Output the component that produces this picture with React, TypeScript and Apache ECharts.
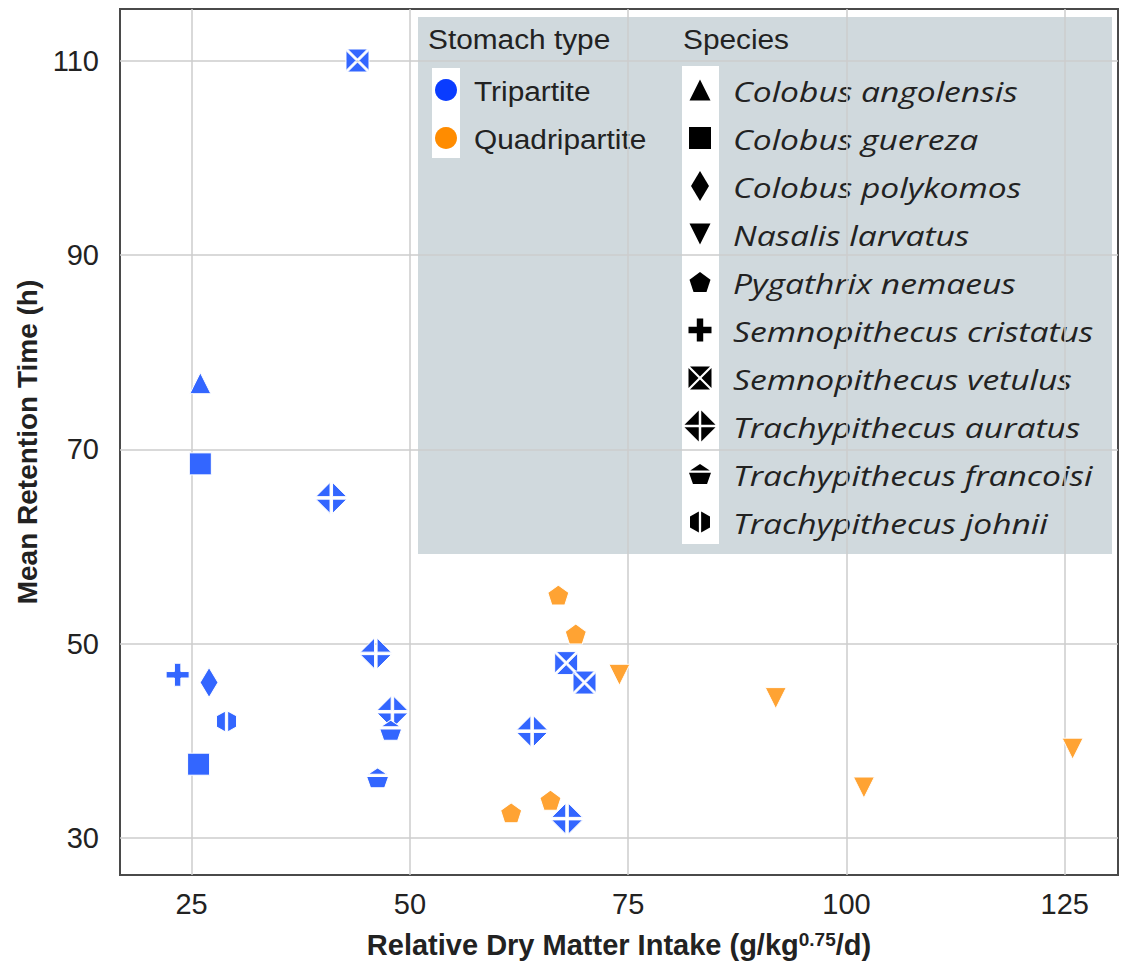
import React, { useEffect, useRef } from "react";
import * as echarts from "echarts";

// ---------- data ----------
const speciesNames = [
  "Colobus angolensis",
  "Colobus guereza",
  "Colobus polykomos",
  "Nasalis larvatus",
  "Pygathrix nemaeus",
  "Semnopithecus cristatus",
  "Semnopithecus vetulus",
  "Trachypithecus auratus",
  "Trachypithecus francoisi",
  "Trachypithecus johnii",
];
const stomachTypes = ["Tripartite", "Quadripartite"];

// one entry per point
const pointSpecies = [
  "Colobus angolensis",
  "Colobus guereza",
  "Colobus guereza",
  "Colobus polykomos",
  "Semnopithecus cristatus",
  "Semnopithecus vetulus",
  "Semnopithecus vetulus",
  "Semnopithecus vetulus",
  "Trachypithecus auratus",
  "Trachypithecus auratus",
  "Trachypithecus auratus",
  "Trachypithecus auratus",
  "Trachypithecus auratus",
  "Trachypithecus francoisi",
  "Trachypithecus francoisi",
  "Trachypithecus johnii",
  "Pygathrix nemaeus",
  "Pygathrix nemaeus",
  "Pygathrix nemaeus",
  "Pygathrix nemaeus",
  "Nasalis larvatus",
  "Nasalis larvatus",
  "Nasalis larvatus",
  "Nasalis larvatus",
];
const pointStomach = [
  "Tripartite", "Tripartite", "Tripartite", "Tripartite", "Tripartite",
  "Tripartite", "Tripartite", "Tripartite", "Tripartite", "Tripartite",
  "Tripartite", "Tripartite", "Tripartite", "Tripartite", "Tripartite",
  "Tripartite",
  "Quadripartite", "Quadripartite", "Quadripartite", "Quadripartite",
  "Quadripartite", "Quadripartite", "Quadripartite", "Quadripartite",
];
const pointIntake = [
  26.0, 26.0, 25.8, 27.0, 23.4, 44.0, 67.9, 70.0, 41.0, 46.1, 48.0, 64.0,
  68.0, 47.8, 46.3, 29.0, 67.0, 69.0, 61.6, 66.1, 74.0, 91.9, 102.0, 125.9,
];
const pointMRT = [
  76.8, 68.5, 37.6, 46.0, 46.8, 110.0, 48.0, 46.0, 65.0, 49.0, 43.0, 41.0,
  32.0, 41.1, 36.2, 42.0, 55.0, 51.0, 32.6, 33.9, 46.8, 44.4, 35.2, 39.2,
];

const xTicks = [25, 50, 75, 100, 125];
const yTicks = [30, 50, 70, 90, 110];

// ---------- styling ----------
const markerColors: Record<string, string> = {
  Tripartite: "#3366ff",
  Quadripartite: "#ffa333",
};
const legendColors: Record<string, string> = {
  Tripartite: "#0a3cff",
  Quadripartite: "#ff8c00",
};
const SANS = '"Liberation Sans", Arial, sans-serif';
const ITALIC_FONT = '"Open Sans", "Noto Sans", sans-serif';
const TEXT_COLOR = "#222222";

// ---------- marker geometry ----------
type Pt = [number, number];
type Poly = Pt[];

function clip(poly: Poly, a: number, b: number, c: number): Poly {
  const out: Poly = [];
  const n = poly.length;
  for (let i = 0; i < n; i++) {
    const P = poly[i];
    const Q = poly[(i + 1) % n];
    const fp = a * P[0] + b * P[1] - c;
    const fq = a * Q[0] + b * Q[1] - c;
    if (fp <= 0) out.push(P);
    if ((fp < 0 && fq > 0) || (fp > 0 && fq < 0)) {
      const t = fp / (fp - fq);
      out.push([P[0] + t * (Q[0] - P[0]), P[1] + t * (Q[1] - P[1])]);
    }
  }
  return out;
}
function clipAll(poly: Poly, planes: number[][]): Poly {
  return planes.reduce((p, pl) => clip(p, pl[0], pl[1], pl[2]), poly);
}

const TRI_UP: Poly = [[0, -1], [1, 1], [-1, 1]];
const TRI_DOWN: Poly = [[-1, -1], [1, -1], [0, 1]];
const SQUARE: Poly = [[-1, -1], [1, -1], [1, 1], [-1, 1]];
const DIAMOND: Poly = [[0, -1], [1, 0], [0, 1], [-1, 0]];
const PENT: Poly = [0, 1, 2, 3, 4].map((k) => {
  const a = ((-90 + 72 * k) * Math.PI) / 180;
  return [Math.cos(a), Math.sin(a)] as Pt;
});
const HEX: Poly = [0, 1, 2, 3, 4, 5].map((k) => {
  const a = ((-90 + 60 * k) * Math.PI) / 180;
  return [Math.cos(a), Math.sin(a)] as Pt;
});
const pa = 0.28;
const PLUS: Poly = [
  [-pa, -1], [pa, -1], [pa, -pa], [1, -pa], [1, pa], [pa, pa],
  [pa, 1], [-pa, 1], [-pa, pa], [-1, pa], [-1, -pa], [-pa, -pa],
];
const kx = 0.13;
const VETULUS: Poly[] = [
  clipAll(SQUARE, [[-1, 1, -kx], [1, 1, -kx]]),
  clipAll(SQUARE, [[1, -1, -kx], [1, 1, -kx]]),
  clipAll(SQUARE, [[-1, 1, -kx], [-1, -1, -kx]]),
  clipAll(SQUARE, [[1, -1, -kx], [-1, -1, -kx]]),
];
const da = 0.075;
const AURATUS: Poly[] = [
  clipAll(DIAMOND, [[-1, 0, -da], [0, 1, -da]]),
  clipAll(DIAMOND, [[1, 0, -da], [0, 1, -da]]),
  clipAll(DIAMOND, [[-1, 0, -da], [0, -1, -da]]),
  clipAll(DIAMOND, [[1, 0, -da], [0, -1, -da]]),
];
const sy = PENT[1][1];
const gf = 0.1;
const FRANCOISI: Poly[] = [
  clipAll(PENT, [[0, 1, sy - gf]]),
  clipAll(PENT, [[0, -1, -(sy + gf)]]),
];
const gj = 0.1;
const JOHNII: Poly[] = [
  clipAll(HEX, [[1, 0, -gj]]),
  clipAll(HEX, [[-1, 0, -gj]]),
];

const shapes: Record<string, { pieces: Poly[]; size: [number, number] }> = {
  "Colobus angolensis": { pieces: [TRI_UP], size: [21, 21] },
  "Colobus guereza": { pieces: [SQUARE], size: [22, 22] },
  "Colobus polykomos": { pieces: [DIAMOND], size: [18, 30] },
  "Nasalis larvatus": { pieces: [TRI_DOWN], size: [21, 21] },
  "Pygathrix nemaeus": { pieces: [PENT], size: [21, 20] },
  "Semnopithecus cristatus": { pieces: [PLUS], size: [23, 23] },
  "Semnopithecus vetulus": { pieces: VETULUS, size: [23, 23] },
  "Trachypithecus auratus": { pieces: AURATUS, size: [31, 31] },
  "Trachypithecus francoisi": { pieces: FRANCOISI, size: [22, 20] },
  "Trachypithecus johnii": { pieces: JOHNII, size: [20, 21] },
};

function bbox(pieces: Poly[]) {
  let x0 = Infinity, y0 = Infinity, x1 = -Infinity, y1 = -Infinity;
  pieces.forEach((p) =>
    p.forEach(([x, y]) => {
      x0 = Math.min(x0, x); y0 = Math.min(y0, y);
      x1 = Math.max(x1, x); y1 = Math.max(y1, y);
    })
  );
  return { x0, y0, x1, y1 };
}
function toPath(pieces: Poly[]): string {
  const f = (v: number) => ((v + 2) * 50).toFixed(2);
  return (
    "path://" +
    pieces
      .map((p) => "M" + p.map(([x, y]) => f(x) + " " + f(y)).join(" L") + " Z")
      .join(" ")
  );
}
function iconPolys(name: string, cx: number, cy: number, fill: string) {
  const { pieces, size } = shapes[name];
  const b = bbox(pieces);
  const w = size[0], h = size[1];
  return pieces.map((p) => ({
    type: "polygon",
    shape: {
      points: p.map(([x, y]) => [
        cx - w / 2 + ((x - b.x0) / (b.x1 - b.x0)) * w,
        cy - h / 2 + ((y - b.y0) / (b.y1 - b.y0)) * h,
      ]),
    },
    style: { fill },
  }));
}

// ---------- option ----------
function buildOption() {
  const series = speciesNames.map((sp) => ({
    type: "scatter",
    name: sp,
    symbol: toPath(shapes[sp].pieces),
    symbolSize: shapes[sp].size,
    itemStyle: { borderColor: "#ffffff", borderWidth: 1, opacity: 1 },
    emphasis: { disabled: true },
    data: pointSpecies
      .map((s, i) => ({ s, i }))
      .filter((o) => o.s === sp)
      .map(({ i }) => ({
        value: [pointIntake[i], pointMRT[i]],
        itemStyle: { color: markerColors[pointStomach[i]] },
      })),
  }));

  const legendX = 418, legendY = 17, legendW = 694, legendH = 537;
  const rowY0 = 90, rowGap = 48;
  const sansText = (text: string, x: number, y: number) => ({
    type: "text",
    x, y, scaleX: 1.065,
    style: { text, font: `28px ${SANS}`, fill: TEXT_COLOR, align: "left", verticalAlign: "middle" },
  });
  const graphicChildren: any[] = [
    {
      type: "rect",
      shape: { x: legendX, y: legendY, width: legendW, height: legendH },
      style: { fill: "#d0d9dd" },
    },
    sansText("Stomach type", 428, 39),
    sansText("Species", 683, 39),
    { type: "rect", shape: { x: 432, y: 68, width: 28, height: 90 }, style: { fill: "#ffffff" } },
    { type: "rect", shape: { x: 682, y: 66, width: 37, height: 478 }, style: { fill: "#ffffff" } },
  ];
  stomachTypes.forEach((st, k) => {
    const cy = rowY0 + rowGap * k;
    graphicChildren.push({ type: "circle", shape: { cx: 446, cy, r: 11 }, style: { fill: legendColors[st] } });
    graphicChildren.push(sansText(st, 474, cy + 1));
  });
  speciesNames.forEach((sp, k) => {
    const cy = rowY0 + rowGap * k;
    iconPolys(sp, 700, cy, "#000000").forEach((e) => graphicChildren.push(e));
    graphicChildren.push({
      type: "text", x: 733, y: cy + 1, scaleX: 1.2,
      style: { text: sp, font: `italic 28px ${ITALIC_FONT}`, fill: TEXT_COLOR, align: "left", verticalAlign: "middle" },
    });
  });

  return {
    animation: false,
    backgroundColor: "#ffffff",
    grid: {
      left: 120, right: 5, top: 9, bottom: 89,
      show: true, borderColor: "#4a4a4a", borderWidth: 2, backgroundColor: "transparent",
    },
    xAxis: {
      type: "value",
      min: 16.8, max: 131.1,
      axisLine: { show: false },
      axisTick: { show: false, customValues: xTicks },
      axisLabel: { customValues: xTicks, fontSize: 29, fontFamily: SANS, color: TEXT_COLOR, margin: 14 },
      splitLine: { show: true, lineStyle: { color: "#cccccc", width: 1.5 } },
      name: "Relative Dry Matter Intake (g/kg{sup|0.75}/d)",
      nameLocation: "middle",
      nameGap: 55,
      nameTextStyle: {
        fontSize: 29, fontWeight: "bold", fontFamily: SANS, color: TEXT_COLOR,
        rich: { sup: { fontSize: 19, fontWeight: "bold", fontFamily: SANS, color: TEXT_COLOR, verticalAlign: "top" } },
      },
    },
    yAxis: {
      type: "value",
      min: 26.2, max: 115.3,
      axisLine: { show: false },
      axisTick: { show: false, customValues: yTicks },
      axisLabel: { customValues: yTicks, fontSize: 29, fontFamily: SANS, color: TEXT_COLOR, margin: 21 },
      splitLine: { show: true, lineStyle: { color: "#cccccc", width: 1.5 } },
      name: "Mean Retention Time (h)",
      nameLocation: "middle",
      nameGap: 76,
      nameTextStyle: { fontSize: 28, fontWeight: "bold", fontFamily: SANS, color: TEXT_COLOR },
    },
    graphic: [{ type: "group", z: 100, children: graphicChildren }],
    series,
  };
}

export default function App() {
  const ref = useRef<HTMLDivElement>(null);
  useEffect(() => {
    if (!ref.current) return;
    const chart = echarts.init(ref.current, null, { renderer: "svg" });
    chart.setOption(buildOption() as any);
    return () => chart.dispose();
  }, []);
  return (
    <div
      ref={ref}
      style={{ position: "absolute", left: 0, top: 0, width: 1123, height: 964, background: "#ffffff" }}
    />
  );
}
